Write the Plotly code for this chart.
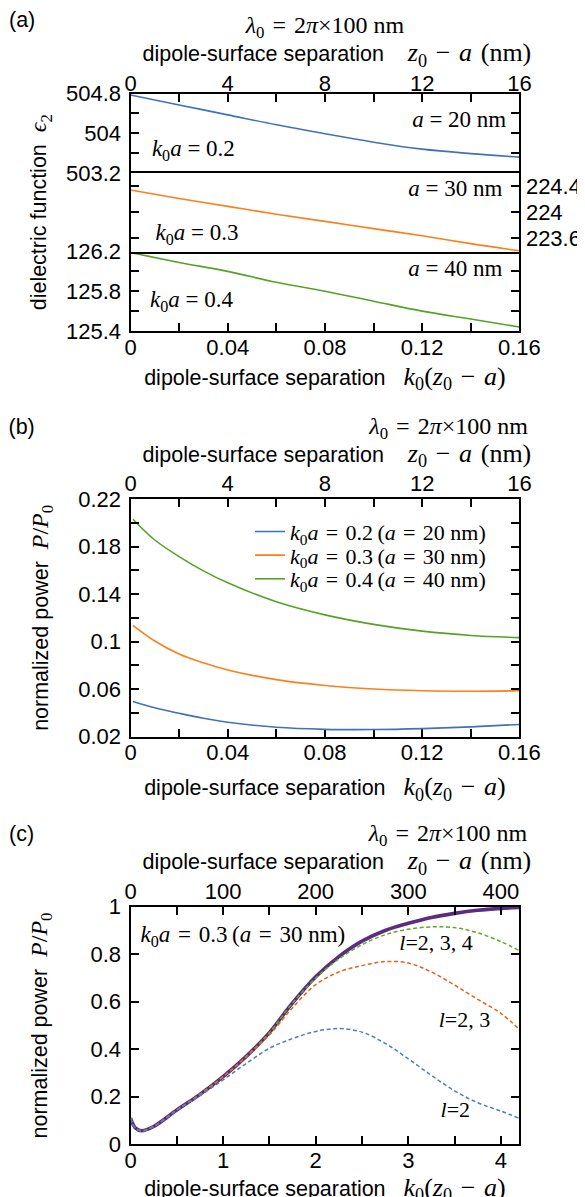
import plotly.graph_objects as go

W, H = 585, 1197
PAGE_OFFSET = 8  # default body margin of the html page shifts the figure by 8 px

# ---------------- data ----------------
NM_PER_K = 100  # lambda0 / (2 pi) in nm: z0 - a (nm) = 100 * k0 (z0 - a)

# panel (a): dielectric function vs k0(z0-a)
a_x = [0.0, 0.02, 0.04, 0.06, 0.08, 0.10, 0.12, 0.14, 0.16]
a_eps_20 = [504.77, 504.57, 504.37, 504.17, 503.99, 503.82, 503.68, 503.59, 503.52]
a_eps_30 = [224.34, 224.21, 224.09, 223.97, 223.86, 223.75, 223.64, 223.52, 223.41]
a_eps_40 = [126.19, 126.09, 126.00, 125.89, 125.80, 125.70, 125.60, 125.52, 125.44]

# panel (b): normalized power
b_x = [0.001, 0.01, 0.02, 0.03, 0.04, 0.06, 0.08, 0.10, 0.12, 0.14, 0.16]
b_p_20 = [0.0497, 0.0443, 0.0397, 0.0355, 0.0322, 0.0279, 0.0262, 0.0260, 0.0268, 0.0283, 0.0303]
b_p_30 = [0.1137, 0.1005, 0.0895, 0.0822, 0.0762, 0.0680, 0.0631, 0.0601, 0.0587, 0.0583, 0.0587]
b_p_40 = [0.203, 0.1855, 0.1715, 0.1595, 0.1495, 0.1335, 0.1225, 0.1145, 0.1088, 0.1052, 0.1034]

# panel (c): normalized power, multipole truncations
c_x = [0, 0.05, 0.12, 0.25, 0.5, 0.75, 1.0, 1.25, 1.5, 1.75, 2.0, 2.25, 2.5, 2.75, 3.0, 3.25, 3.5, 3.75, 4.0, 4.2]
c_full = [0.11, 0.07, 0.057, 0.075, 0.144, 0.21, 0.285, 0.37, 0.47, 0.595, 0.705, 0.79, 0.855, 0.90, 0.93, 0.955, 0.972, 0.985, 0.993, 0.997]
c_l234 = [0.11, 0.07, 0.057, 0.075, 0.144, 0.21, 0.285, 0.37, 0.47, 0.594, 0.70, 0.78, 0.84, 0.882, 0.905, 0.915, 0.912, 0.89, 0.853, 0.815]
c_l23 = [0.11, 0.07, 0.057, 0.075, 0.144, 0.21, 0.284, 0.368, 0.46, 0.575, 0.672, 0.725, 0.752, 0.769, 0.763, 0.725, 0.67, 0.61, 0.551, 0.484]
c_l2 = [0.11, 0.07, 0.057, 0.075, 0.144, 0.205, 0.271, 0.34, 0.404, 0.445, 0.475, 0.487, 0.472, 0.425, 0.36, 0.29, 0.225, 0.175, 0.14, 0.109]

# ticks
k_ticks_a = [0, 0.02, 0.04, 0.06, 0.08, 0.10, 0.12, 0.14, 0.16]
k_labels_a = ["0", "", "0.04", "", "0.08", "", "0.12", "", "0.16"]
nm_ticks_a = [0, 2, 4, 6, 8, 10, 12, 14, 16]
nm_labels_a = ["0", "", "4", "", "8", "", "12", "", "16"]
eps1_ticks = [503.2, 503.6, 504.0, 504.4, 504.8]
eps1_labels = ["503.2", "", "504", "", "504.8"]
eps2_ticks = [223.6, 224.0, 224.4]
eps2_labels = ["223.6", "224", "224.4"]
eps3_ticks = [125.4, 125.6, 125.8, 126.0, 126.2]
eps3_labels = ["125.4", "", "125.8", "", "126.2"]
pb_ticks = [0.02, 0.04, 0.06, 0.08, 0.10, 0.12, 0.14, 0.16, 0.18, 0.20, 0.22]
pb_labels = ["0.02", "", "0.06", "", "0.1", "", "0.14", "", "0.18", "", "0.22"]
k_ticks_c = [0, 0.5, 1, 1.5, 2, 2.5, 3, 3.5, 4]
k_labels_c = ["0", "", "1", "", "2", "", "3", "", "4"]
nm_ticks_c = [0, 50, 100, 150, 200, 250, 300, 350, 400]
nm_labels_c = ["0", "", "100", "", "200", "", "300", "", "400"]
pc_ticks = [0, 0.2, 0.4, 0.6, 0.8, 1.0]
pc_labels = ["0", "0.2", "0.4", "0.6", "0.8", "1"]

def to_nm(xs):
    return [v * NM_PER_K for v in xs]

# ---------------- helpers ----------------
def PX(px):
    return (px - PAGE_OFFSET) / W

def PY(py):
    return 1 - (py - PAGE_OFFSET) / H

SANS = "Liberation Sans"
SERIF = "Liberation Serif"
BLUE = "#3f72b6"
ORANGE = "#fb7f1c"
GREEN = "#56a226"
C_BLUE = "#4a7fc4"
C_ORANGE = "#e2651d"
C_GREEN = "#5faa22"
PURPLE = "#5b2d82"
SP = "\u2004"
NB = "\u00a0"

def m(s, size=24):
    return f'<span style="font-family:{SERIF};font-size:{size}px">{s}</span>'

XD = [PX(130.5), PX(519.4)]

axis_common = dict(showline=True, linecolor="black", linewidth=2.2, ticks="inside",
                   ticklen=8, tickwidth=1.8, tickcolor="black", showgrid=False,
                   zeroline=False, tickmode="array",
                   tickfont=dict(family=SANS, size=22, color="black"))

fig = go.Figure()

# panel (a)
fig.add_trace(go.Scatter(x=to_nm(a_x), y=a_eps_20, mode="lines", line=dict(color=BLUE, width=1.6, shape="spline"),
                         xaxis="x2", yaxis="y", showlegend=False))
fig.add_trace(go.Scatter(x=a_x, y=a_eps_30, mode="lines", line=dict(color=ORANGE, width=1.6, shape="spline"),
                         xaxis="x3", yaxis="y2", showlegend=False))
fig.add_trace(go.Scatter(x=a_x, y=a_eps_40, mode="lines", line=dict(color=GREEN, width=1.6, shape="spline"),
                         xaxis="x", yaxis="y3", showlegend=False))
# empty trace that only carries the panel-wide y title of panel (a)
fig.add_trace(go.Scatter(x=[], y=[], mode="lines", xaxis="x", yaxis="y6", showlegend=False, hoverinfo="skip"))

# panel (b)
leg = ("<i>k</i><sub>0</sub><i>a</i>" + SP + "=" + SP + "{}\u2009(<i>a</i>" + SP + "=" + SP + "{}" + NB + "nm)")
fig.add_trace(go.Scatter(x=to_nm(b_x), y=b_p_20, mode="lines", line=dict(color=BLUE, width=1.6, shape="spline"),
                         xaxis="x5", yaxis="y4", name=leg.format("0.2", "20"), legend="legend"))
fig.add_trace(go.Scatter(x=b_x, y=b_p_30, mode="lines", line=dict(color=ORANGE, width=1.6, shape="spline"),
                         xaxis="x4", yaxis="y4", name=leg.format("0.3", "30"), legend="legend2"))
fig.add_trace(go.Scatter(x=b_x, y=b_p_40, mode="lines", line=dict(color=GREEN, width=1.6, shape="spline"),
                         xaxis="x4", yaxis="y4", name=leg.format("0.4", "40"), legend="legend3"))

# panel (c)
fig.add_trace(go.Scatter(x=c_x, y=c_full, mode="lines", line=dict(color=PURPLE, width=3.6, shape="spline"),
                         xaxis="x6", yaxis="y5", showlegend=False))
for ys, col in [(c_l234, C_GREEN), (c_l23, C_ORANGE)]:
    fig.add_trace(go.Scatter(x=c_x, y=ys, mode="lines",
                             line=dict(color=col, width=1.5, dash="4px,2.6px", shape="spline"),
                             xaxis="x6", yaxis="y5", showlegend=False))
fig.add_trace(go.Scatter(x=to_nm(c_x), y=c_l2, mode="lines",
                         line=dict(color=C_BLUE, width=1.5, dash="4px,2.6px", shape="spline"),
                         xaxis="x7", yaxis="y5", showlegend=False))

# ---------------- in-panel text labels (each panel's own data coordinates) ----------------
def label(text, x, y, xa, ya, pos="middle right", family=SERIF, size=23):
    fig.add_trace(go.Scatter(x=[x], y=[y], mode="text", text=[text], textposition=pos,
                             textfont=dict(family=family, size=size, color="black"),
                             xaxis=xa, yaxis=ya, showlegend=False, hoverinfo="skip", cliponaxis=False))

label("<i>a</i> = 20 nm", 15.46, 504.25, "x2", "y", pos="middle left")
label("<i>k</i><sub>0</sub><i>a</i> = 0.2", 0.88, 503.66, "x2", "y")
label("<i>a</i> = 30 nm", 0.153, 224.33, "x3", "y2", pos="middle left")
label("<i>k</i><sub>0</sub><i>a</i> = 0.3", 0.0103, 223.66, "x3", "y2")
label("<i>a</i> = 40 nm", 0.153, 126.014, "x", "y3", pos="middle left")
label("<i>k</i><sub>0</sub><i>a</i> = 0.4", 0.008, 125.695, "x", "y3")
label("<i>k</i><sub>0</sub><i>a</i>" + SP + "=" + SP + "0.3\u2009(<i>a</i>" + SP + "=" + SP + "30" + NB + "nm)",
      0.109, 0.874, "x6", "y5")
label("<i>l</i>=2, 3, 4", 2.903, 0.839, "x6", "y5", size=22)
label("<i>l</i>=2, 3", 3.328, 0.516, "x6", "y5", size=22)
label("<i>l</i>=2", 3.348, 0.137, "x6", "y5", size=22)

# ---------------- titles ----------------
TITLE_FONT = dict(family=SANS, size=21.5, color="black")
lam = m("<i>λ</i><sub>0</sub>" + SP + "=" + SP + "2<i>π</i>×100" + NB + "nm")
sep = "dipole-surface separation"
top_line2 = NB * 4 + sep + NB * 4 + m("<i>z</i><sub>0</sub>" + SP + "−" + SP + "<i>a</i>" + SP + "(nm)", 26)
bot_title = sep + NB * 3 + m("<i>k</i><sub>0</sub>(<i>z</i><sub>0</sub>" + SP + "−" + SP + "<i>a</i>)", 26)
pow_title = "normalized power" + NB + NB + m("<i>P</i>/<i>P</i><sub>0</sub>")
eps_title = "dielectric function" + NB + NB + m("<i>ϵ</i><sub>2</sub>")

def top_title(panel):
    if panel:
        first = panel + NB * 56 + lam + NB * 19
    else:
        first = NB * 42 + lam
    return first + "<br>" + top_line2

def top_axis(rng, vals, text, anchor, panel, standoff, lab_standoff):
    return dict(axis_common, domain=XD, anchor=anchor, side="top", range=rng, tickvals=vals, ticktext=text,
                ticklabelstandoff=lab_standoff,
                title=dict(text=top_title(panel), font=TITLE_FONT, standoff=standoff))

def bottom_axis(rng, vals, text, anchor, standoff):
    return dict(axis_common, domain=XD, anchor=anchor, range=rng, tickvals=vals, ticktext=text,
                ticklabelstandoff=-5, title=dict(text=bot_title, font=TITLE_FONT, standoff=standoff))

def legend_at(py):
    return dict(x=PX(250), y=PY(py), xanchor="left", yanchor="middle", bgcolor="rgba(0,0,0,0)",
                borderwidth=0, font=dict(family=SERIF, size=22, color="black"))

lay = dict(
    width=W, height=H, margin=dict(l=0, r=0, t=0, b=0, pad=0, autoexpand=False),
    paper_bgcolor="white", plot_bgcolor="rgba(0,0,0,0)",
    font=dict(family=SANS, size=22, color="black"),
    title=dict(text="(a)", x=PX(9), y=PY(19), xanchor="left", yanchor="middle", xref="paper", yref="paper",
               font=dict(family=SANS, size=21.5, color="black")),
    # ---- panel (a)
    xaxis2=top_axis([0, 16], nm_ticks_a, nm_labels_a, "y", "", 0, -8),
    yaxis=dict(axis_common, domain=[PY(173), PY(93.5)], anchor="x2", range=[503.2, 504.8], mirror="ticks",
               tickvals=eps1_ticks, ticktext=eps1_labels, ticklabelstandoff=3),
    xaxis3=dict(showline=True, linecolor="black", linewidth=2.2, mirror=True, domain=XD, anchor="y2",
                range=[0, 0.16], showticklabels=False, ticks="", showgrid=False, zeroline=False),
    yaxis2=dict(axis_common, domain=[PY(251.5), PY(173)], anchor="x3", range=[223.4, 224.6], mirror="ticks",
                side="right", tickvals=eps2_ticks, ticktext=eps2_labels),
    xaxis=bottom_axis([0, 0.16], k_ticks_a, k_labels_a, "y3", 11),
    yaxis3=dict(axis_common, domain=[PY(331), PY(251.5)], anchor="x", range=[125.4, 126.2], mirror="ticks",
                tickvals=eps3_ticks, ticktext=eps3_labels, ticklabelstandoff=3),
    yaxis6=dict(domain=[PY(331), PY(93.5)], anchor="x", range=[0, 1], showline=False, ticks="",
                showticklabels=False, showgrid=False, zeroline=False,
                title=dict(text=eps_title, font=TITLE_FONT, standoff=76)),
    # ---- panel (b)
    xaxis4=bottom_axis([0, 0.16], k_ticks_a, k_labels_a, "y4", 16),
    xaxis5=top_axis([0, 16], nm_ticks_a, nm_labels_a, "y4", "(b)", 0, -3),
    yaxis4=dict(axis_common, domain=[PY(736.7), PY(499)], anchor="x4", range=[0.02, 0.22], mirror="ticks",
                tickvals=pb_ticks, ticktext=pb_labels, ticklabelstandoff=3,
                title=dict(text=pow_title, font=TITLE_FONT, standoff=24)),
    # ---- panel (c)
    xaxis6=bottom_axis([0, 4.2], k_ticks_c, k_labels_c, "y5", 0),
    xaxis7=top_axis([0, 420], nm_ticks_c, nm_labels_c, "y5", "(c)", 3, -3),
    yaxis5=dict(axis_common, domain=[PY(1144.3), PY(906.7)], anchor="x6", range=[0, 1], mirror="ticks",
                tickvals=pc_ticks, ticktext=pc_labels, ticklabelstandoff=3,
                title=dict(text=pow_title, font=TITLE_FONT, standoff=37)),
    legend=legend_at(531.7),
    legend2=legend_at(555.3),
    legend3=legend_at(579),
)
fig.update_layout(**lay)
fig.write_html("out.html")
